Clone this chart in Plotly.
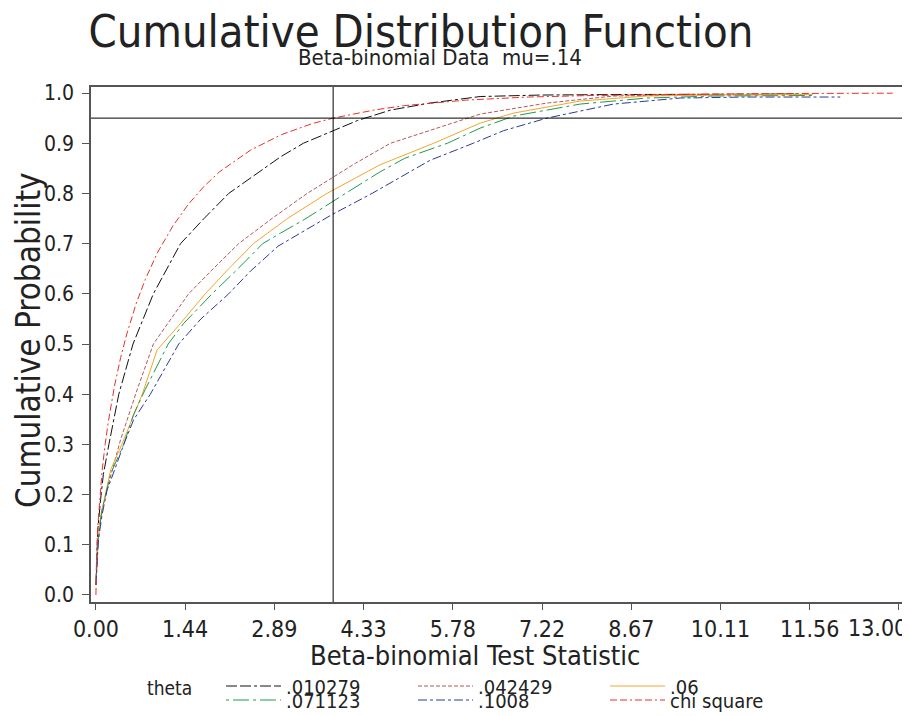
import plotly.graph_objects as go

# reference lines: chi-square(1) 95th percentile and the 0.95 level
CRIT_X = 3.84
CRIT_P = 0.95

x_ticks = [0.0, 1.444, 2.889, 4.333, 5.778, 7.222, 8.667, 10.111, 11.556, 13.0]
x_tick_text = ["0.00", "1.44", "2.89", "4.33", "5.78", "7.22", "8.67", "10.11", "11.56", ""]
last_tick_text = "13.00"
y_ticks = [0.0, 0.1, 0.2, 0.3, 0.4, 0.5, 0.6, 0.7, 0.8, 0.9, 1.0]

# theta = .010279
x_010279 = [0.0, 0.01, 0.03, 0.075, 0.12, 0.21, 0.37, 0.60, 0.93, 1.37, 1.75, 2.15, 2.61,
            2.99, 3.36, 3.81, 4.23, 4.77, 5.41, 6.22, 7.2, 8.5, 10.0, 11.4]
y_010279 = [0.02, 0.07, 0.13, 0.19, 0.24, 0.30, 0.40, 0.50, 0.60, 0.70, 0.75, 0.80, 0.84,
            0.873, 0.90, 0.923, 0.945, 0.966, 0.980, 0.993, 0.996, 0.997, 0.998, 0.998]

# theta = .042429
x_042429 = [0.0, 0.02, 0.08, 0.18, 0.40, 0.67, 0.93, 1.21, 1.50, 1.90, 2.31, 2.85, 3.42,
            3.81, 4.20, 4.77, 5.41, 6.22, 7.30, 8.38, 9.5, 10.5, 11.6]
y_042429 = [0.02, 0.09, 0.16, 0.21, 0.31, 0.41, 0.50, 0.55, 0.60, 0.65, 0.70, 0.75, 0.80,
            0.830, 0.86, 0.90, 0.925, 0.958, 0.980, 0.994, 0.996, 0.997, 0.997]

# theta = .06
x_06 = [0.0, 0.02, 0.075, 0.15, 0.24, 0.42, 0.75, 0.99, 1.32, 1.77, 2.15, 2.55, 3.1,
        3.74, 4.60, 5.47, 6.22, 6.76, 7.84, 8.9, 10.0, 11.6]
y_06 = [0.02, 0.08, 0.156, 0.20, 0.25, 0.30, 0.40, 0.488, 0.534, 0.60, 0.65, 0.70, 0.75,
        0.80, 0.857, 0.90, 0.940, 0.960, 0.984, 0.994, 0.996, 0.997]

# theta = .071123
x_071123 = [0.0, 0.02, 0.04, 0.10, 0.18, 0.24, 0.45, 0.61, 0.80, 1.17, 1.42, 1.88, 2.30, 2.70,
            2.99, 3.4, 4.04, 4.60, 5.0, 5.69, 6.22, 6.76, 7.84, 8.92, 10.0, 11.6]
y_071123 = [0.02, 0.07, 0.12, 0.17, 0.215, 0.242, 0.30, 0.36, 0.41, 0.50, 0.541, 0.60, 0.65, 0.70,
            0.721, 0.75, 0.80, 0.843, 0.87, 0.90, 0.930, 0.954, 0.978, 0.990, 0.994, 0.995]

# theta = .1008
x_1008 = [0.0, 0.02, 0.04, 0.10, 0.18, 0.29, 0.45, 0.61, 0.88, 1.34, 1.70, 2.15, 2.50, 2.95,
          3.81, 4.47, 5.41, 6.11, 6.6, 7.30, 8.38, 9.46, 10.5, 12.05]
y_1008 = [0.02, 0.06, 0.11, 0.16, 0.209, 0.245, 0.30, 0.349, 0.40, 0.50, 0.55, 0.60, 0.645, 0.695,
          0.757, 0.80, 0.866, 0.90, 0.925, 0.950, 0.978, 0.990, 0.992, 0.992]

# chi square reference
x_chisq = [0.0, 0.01, 0.03, 0.06, 0.1, 0.15, 0.2, 0.3, 0.4, 0.5, 0.65, 0.8, 1.0, 1.25, 1.5, 1.75,
           2.0, 2.5, 3.0, 3.5, 3.84, 4.5, 5.0, 6.0, 7.0, 8.0, 9.0, 10.0, 11.0, 12.0, 12.9]
y_chisq = [0.0, 0.08, 0.137, 0.193, 0.248, 0.301, 0.345, 0.416, 0.473, 0.520, 0.580, 0.629, 0.683, 0.736,
           0.779, 0.814, 0.843, 0.886, 0.917, 0.939, 0.950, 0.966, 0.975, 0.986, 0.992, 0.995, 0.997,
           0.998, 0.999, 0.9995, 0.9997]

FONT = "Liberation Sans Narrow, Arial Narrow, DejaVu Sans Condensed, Liberation Sans, sans-serif"

# the page body adds an 8px margin, so the figure is 8px smaller than the window
PAGE_PAD = 8
W, H = 910 - PAGE_PAD, 716 - PAGE_PAD
# plot area in window pixels
L, R, T, B = 91, 902, 87, 602


def px_x(p):
    return (p - L) / (R - L)


def px_y(p):
    return (B - p) / (B - T)


series = [
    (".010279", x_010279, y_010279, "#111111", "11px,3px,11px,3px,3px,3px"),
    (".042429", x_042429, y_042429, "#b35a5a", "4px,2px"),
    (".06", x_06, y_06, "#f5a62a", "solid"),
    (".071123", x_071123, y_071123, "#1e9a50", "3px,4px,16px,4px"),
    (".1008", x_1008, y_1008, "#2c3a9c", "9px,3px,3px,3px"),
    ("chi square", x_chisq, y_chisq, "#e8312a", "7px,3px,7px,3px,2px,3px"),
]
# legend slot (column left edge, row centre) for each entry, 3 columns x 2 rows
legend_cols = [221, 413, 605]
legend_rows = [686, 700]

fig = go.Figure()
legends = {}
for i, (name, xs, ys, color, dash) in enumerate(series):
    key = "legend" if i == 0 else f"legend{i + 1}"
    fig.add_trace(go.Scatter(
        x=xs, y=ys, name=name, mode="lines", legend=key,
        line=dict(color=color, width=1, dash=dash),
    ))
    legends[key] = dict(
        x=px_x(legend_cols[i % 3]), y=px_y(legend_rows[i // 3]),
        xanchor="left", yanchor="middle", orientation="h",
        itemwidth=55, bgcolor="rgba(0,0,0,0)", borderwidth=0,
        font=dict(size=20, color="#222"),
    )

fig.add_shape(type="line", xref="x", yref="paper", x0=CRIT_X, x1=CRIT_X, y0=0, y1=1,
              line=dict(color="black", width=1))
fig.add_shape(type="line", xref="paper", yref="y", x0=0, x1=1, y0=CRIT_P, y1=CRIT_P,
              line=dict(color="black", width=1))

fig.add_annotation(text="Beta-binomial Data  mu=.14", xref="paper", yref="paper",
                   x=px_x(440), y=px_y(57), showarrow=False,
                   font=dict(size=22, color="#222"), xanchor="center", yanchor="middle")
fig.add_annotation(text="Beta-binomial Test Statistic", xref="paper", yref="paper",
                   x=px_x(475), y=px_y(655), showarrow=False,
                   font=dict(size=27, color="#222"), xanchor="center", yanchor="middle")
fig.add_annotation(text="Cumulative Probability", xref="paper", yref="paper",
                   x=px_x(28), y=px_y(340), showarrow=False, textangle=-90,
                   font=dict(size=33, color="#222"), xanchor="center", yanchor="middle")
fig.add_annotation(text="theta", xref="paper", yref="paper",
                   x=px_x(145), y=px_y(688), showarrow=False,
                   font=dict(size=19, color="#222"), xanchor="left", yanchor="middle")
fig.add_annotation(text=last_tick_text, xref="paper", yref="paper",
                   x=px_x(909), y=px_y(628), showarrow=False,
                   font=dict(size=23, color="#222"), xanchor="right", yanchor="middle")

fig.update_layout(
    width=W,
    height=H,
    margin=dict(l=L - PAGE_PAD, r=W - (R - PAGE_PAD), t=T - PAGE_PAD, b=H - (B - PAGE_PAD),
                autoexpand=False),
    paper_bgcolor="white",
    plot_bgcolor="white",
    font=dict(family=FONT, color="#222"),
    title=dict(text="Cumulative Distribution Function", x=(421 - PAGE_PAD) / W, xanchor="center",
               y=1 - (31 - PAGE_PAD) / H, yanchor="middle", font=dict(size=45, color="#222")),
    showlegend=True,
    **legends,
)

fig.update_xaxes(
    range=[-0.08, 13.05], tickvals=x_ticks, ticktext=x_tick_text,
    showgrid=False, zeroline=False, showline=True, mirror=True,
    linecolor="#555", linewidth=1.5, ticks="outside", ticklen=6, tickcolor="#555",
    tickfont=dict(size=23), automargin=False,
)
fig.update_yaxes(
    range=[-0.014, 1.012], tickvals=y_ticks, tickformat=".1f",
    showgrid=False, zeroline=False, showline=True, mirror=True,
    linecolor="#555", linewidth=1.5, ticks="outside", ticklen=7, tickcolor="#555",
    tickfont=dict(size=21), ticklabelstandoff=4, automargin=False,
)

fig.write_html("out.html")
